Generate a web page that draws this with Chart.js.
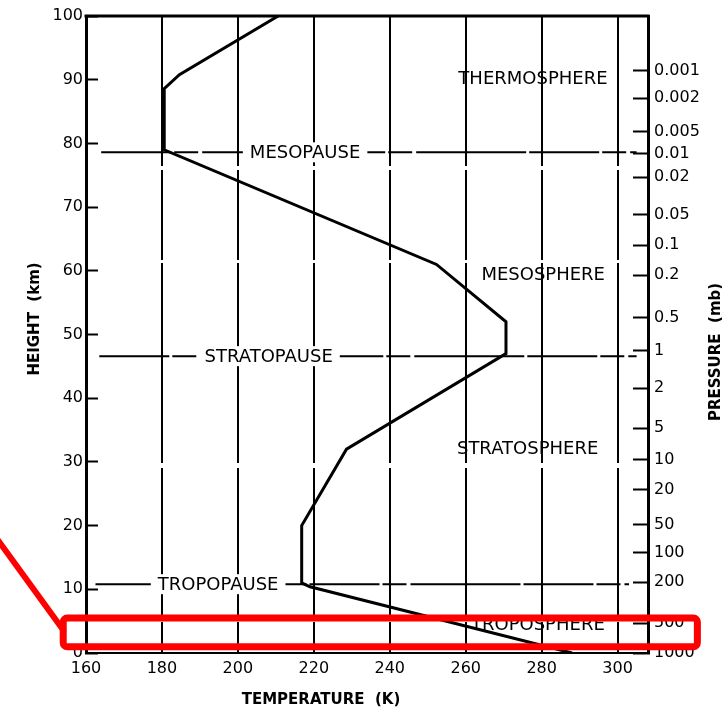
<!DOCTYPE html>
<html lang="en">
<head>
<meta charset="UTF-8" />
<title>Standard atmosphere: temperature and pressure with height</title>
<script src="https://cdn.jsdelivr.net/npm/chart.js@4.4.1/dist/chart.umd.min.js"></script>
<style>
    body { margin: 0; background: #fff; }
    div.main { width: 722px; height: 710px; }
</style>
</head>
<body>
<div class="main"><canvas id="myChart" width="722" height="710"></canvas></div>

<script>
// temperature profile (height in km, temperature in K)
const heightKm = [0, 10.4, 11, 20, 32, 47, 52, 61, 79, 88.6, 90.8, 100];
const tempK = [288, 219, 216.8, 216.8, 228.6, 270.6, 270.6, 252.3, 180.6, 180.6, 184.6, 210.6];

const tempTicks = [160, 180, 200, 220, 240, 260, 280, 300];
const heightTicks = [0, 10, 20, 30, 40, 50, 60, 70, 80, 90, 100];

// pressure scale on the right, placed at the height where it occurs
const pressureLabels = ["0.001", "0.002", "0.005", "0.01", "0.02", "0.05", "0.1", "0.2", "0.5", "1", "2", "5", "10", "20", "50", "100", "200", "500", "1000"];
const pressureKm = [91.4, 87.1, 81.8, 78.4, 74.7, 68.8, 64.0, 59.3, 52.6, 47.5, 41.6, 35.3, 30.3, 25.6, 20.1, 15.7, 11.1, 4.7, 0];

// the three "pause" levels
const pauseNames = ["MESOPAUSE", "STRATOPAUSE", "TROPOPAUSE"];
const pauseKm = [78.6, 46.6, 10.8];
const pauseLabelT = [217.7, 208.1, 194.8];
const pauseFromT = [164, 163.5, 162.5];
const pauseToT = [305, 305, 303];

// layer names
const layerNames = ["THERMOSPHERE", "MESOSPHERE", "STRATOSPHERE", "TROPOSPHERE"];
const layerT = [277.7, 280.4, 276.3, 279];
const layerKm = [90, 59.3, 32, 4.4];

// highlighted band near the ground
const bandT = [154, 321];
const bandKm = [1.0, 5.5];
const pointerKm = [17.7, 3.6];

Chart.defaults.font.family = "'DejaVu Sans', sans-serif";
Chart.defaults.color = "#000";

const profile = heightKm.map((h, i) => ({ x: tempK[i], y: h }));

const pauseSets = pauseNames.map((name, i) => ({
    label: name,
    data: [{ x: pauseFromT[i], y: pauseKm[i] }, { x: pauseToT[i], y: pauseKm[i] }],
    borderColor: "#000",
    borderWidth: 2,
    borderDash: [70, 3, 24, 4, 110, 3],
    pointRadius: 0,
}));

// fixed axis boxes so the plot frame sits where it should
const fixWidth = (w) => (scale) => {
    scale.width = w;
    scale.paddingTop = 0;
    scale.paddingBottom = 0;
};

const atmosphereText = {
    id: "atmosphereText",
    afterDatasetsDraw(chart) {
        const { ctx, chartArea, scales } = chart;
        const x = scales.x, y = scales.y;
        ctx.save();

        // top of the frame
        ctx.strokeStyle = "#000";
        ctx.lineWidth = 3;
        ctx.beginPath();
        ctx.moveTo(chartArea.left - 1.5, chartArea.top);
        ctx.lineTo(chartArea.right + 1.5, chartArea.top);
        ctx.stroke();

        ctx.font = "18px 'DejaVu Sans'";
        ctx.textAlign = "center";
        ctx.textBaseline = "middle";

        pauseNames.forEach((name, i) => {
            const px = x.getPixelForValue(pauseLabelT[i]);
            const py = y.getPixelForValue(pauseKm[i]);
            const w = ctx.measureText(name).width + 14;
            ctx.fillStyle = "#fff";
            ctx.fillRect(px - w / 2, py - 10, w, 20);
            ctx.fillStyle = "#000";
            ctx.fillText(name, px, py + 1);
        });

        layerNames.forEach((name, i) => {
            ctx.fillText(name, x.getPixelForValue(layerT[i]), y.getPixelForValue(layerKm[i]));
        });

        // axis titles
        ctx.font = "bold 15px 'DejaVu Sans'";
        ctx.fillText("TEMPERATURE  (K)", 321, 700);
        ctx.save();
        ctx.translate(35, 319);
        ctx.rotate(-Math.PI / 2);
        ctx.fillText("HEIGHT  (km)", 0, 0);
        ctx.restore();
        ctx.save();
        ctx.translate(716, 352);
        ctx.rotate(-Math.PI / 2);
        ctx.fillText("PRESSURE  (mb)", 0, 0);
        ctx.restore();

        ctx.restore();
    },
    afterDraw(chart) {
        const { ctx, scales } = chart;
        const x = scales.x, y = scales.y;
        const x0 = x.getPixelForValue(bandT[0]), x1 = x.getPixelForValue(bandT[1]);
        const y0 = y.getPixelForValue(bandKm[1]), y1 = y.getPixelForValue(bandKm[0]);
        ctx.save();
        ctx.strokeStyle = "#ff0000";
        ctx.lineWidth = 7;
        ctx.beginPath();
        ctx.roundRect(x0, y0, x1 - x0, y1 - y0, 4);
        ctx.stroke();
        ctx.lineWidth = 6;
        ctx.lineCap = "round";
        ctx.beginPath();
        ctx.moveTo(-2, y.getPixelForValue(pointerKm[0]));
        ctx.lineTo(x0, y.getPixelForValue(pointerKm[1]));
        ctx.stroke();
        ctx.restore();
    },
};

const ctx = document.getElementById("myChart").getContext("2d");
const myChart = new Chart(ctx, {
    type: "line",
    data: {
        datasets: [
            {
                label: "Temperature",
                data: profile,
                borderColor: "#000",
                borderWidth: 3,
                pointRadius: 0,
                tension: 0,
            },
            ...pauseSets,
        ],
    },
    options: {
        responsive: false,
        animation: false,
        layout: { padding: { top: 16 } },
        plugins: {
            legend: { display: false },
            tooltip: { enabled: false },
        },
        scales: {
            x: {
                type: "linear",
                min: 160,
                max: 308,
                afterBuildTicks: (scale) => { scale.ticks = tempTicks.map((v) => ({ value: v })); },
                afterFit: (scale) => { scale.height = 57; },
                ticks: { font: { size: 16 }, padding: 6, maxRotation: 0 },
                grid: { color: "#000", lineWidth: 2, drawTicks: false },
                border: { color: "#000", width: 2, dash: [150, 4, 90, 3, 200, 5] },
            },
            y: {
                type: "linear",
                position: "left",
                min: 0,
                max: 100,
                afterBuildTicks: (scale) => { scale.ticks = heightTicks.map((v) => ({ value: v })); },
                afterFit: fixWidth(86),
                ticks: { font: { size: 16 }, padding: 15 },
                grid: { drawOnChartArea: false, tickLength: -12, tickWidth: 2, tickColor: "#000" },
                border: { color: "#000", width: 3 },
            },
            yP: {
                type: "linear",
                position: "right",
                min: 0,
                max: 100,
                afterBuildTicks: (scale) => { scale.ticks = pressureKm.map((v) => ({ value: v })); },
                afterFit: fixWidth(74),
                ticks: {
                    font: { size: 16 },
                    padding: 21,
                    autoSkip: false,
                    callback: (value, index) => pressureLabels[index],
                },
                grid: { drawOnChartArea: false, tickLength: -15, tickWidth: 2, tickColor: "#000" },
                border: { color: "#000", width: 3 },
            },
        },
    },
    plugins: [atmosphereText],
});
</script>
</body>
</html>
